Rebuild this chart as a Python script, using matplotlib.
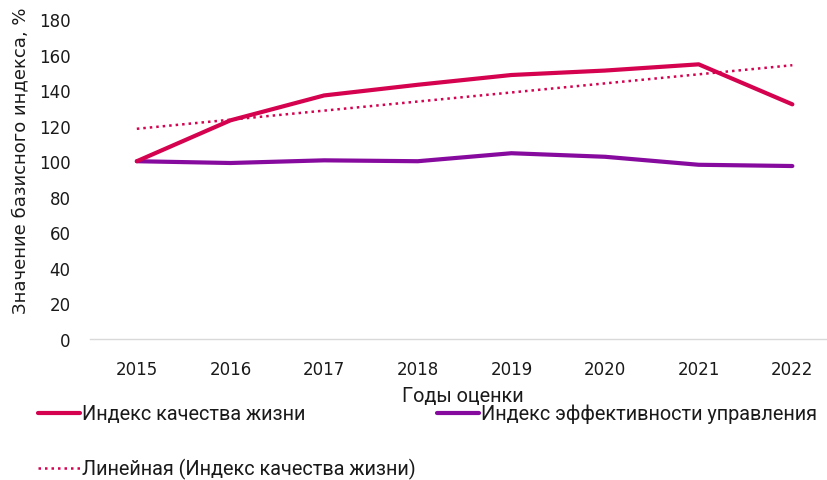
import numpy as np
import matplotlib
matplotlib.use("Agg")
import matplotlib.pyplot as plt
from matplotlib import font_manager

years = ["2015", "2016", "2017", "2018", "2019", "2020", "2021", "2022"]
quality = [100, 123, 137, 143, 148.5, 151, 154.5, 132]
efficiency = [100, 99, 100.5, 100, 104.5, 102.5, 98, 97.3]
yticks = [0, 20, 40, 60, 80, 100, 120, 140, 160, 180]

label_q = "Индекс качества жизни"
label_e = "Индекс эффективности управления"
label_t = "Линейная (Индекс качества жизни)"
ylabel = "Значение базисного индекса, %"
xlabel = "Годы оценки"

c_q = "#D4024F"
c_e = "#870A9E"

names = {f.name for f in font_manager.fontManager.ttflist}
tick_font = "DejaVu Sans"
narrow = "Liberation Sans Narrow" if "Liberation Sans Narrow" in names else "Roboto"

fig = plt.figure(figsize=(8.27, 4.81), dpi=100)
ax = fig.add_axes([90/827, 1-340/481, 1-90/827, 320/481])

x = np.arange(len(years))
lq, = ax.plot(x, quality, color=c_q, lw=3.0, solid_capstyle="round", solid_joinstyle="round", zorder=3)
le, = ax.plot(x, efficiency, color=c_e, lw=3.0, solid_capstyle="round", solid_joinstyle="round", zorder=2)
coef = np.polyfit(x, quality, 1)
lt, = ax.plot(x, np.polyval(coef, x), color=c_q, lw=1.8, linestyle=(0, (1, 1.6)), zorder=4)

ax.set_xlim(-0.5, 7.37)
ax.set_ylim(0, 180)
ax.set_yticks(yticks)
ax.set_xticks(x)
ax.set_xticklabels(years)
for s in ["left", "right", "top"]:
    ax.spines[s].set_visible(False)
ax.spines["bottom"].set_color("#D9D9D9")
ax.spines["bottom"].set_linewidth(1.0)
ax.tick_params(axis="both", length=0, labelsize=12, labelcolor="#1a1a1a")
ax.tick_params(axis="x", pad=15)
ax.tick_params(axis="y", pad=14)
for lab in ax.get_xticklabels() + ax.get_yticklabels():
    lab.set_family(tick_font)

fig.text(20/827, 1-161/481, ylabel, rotation=90, ha="center", va="center",
         fontsize=13, family=tick_font, color="#1a1a1a")
fig.text(463/827, 1-397/481, xlabel, ha="center", va="center",
         fontsize=14.3, family=narrow, color="#1a1a1a")

leg = fig.legend([lq, lt, le], [label_q, label_t, label_e], ncol=2,
                 loc="upper left", bbox_to_anchor=(38/827, 1-405/481),
                 frameon=False, handlelength=2.1, handletextpad=0.1,
                 labelspacing=1.75, columnspacing=1.1, borderaxespad=0, borderpad=0,
                 prop={"family": narrow, "size": 14.3})
for t in leg.get_texts():
    t.set_color("#1a1a1a")

fig.savefig("out.png", dpi=100)
